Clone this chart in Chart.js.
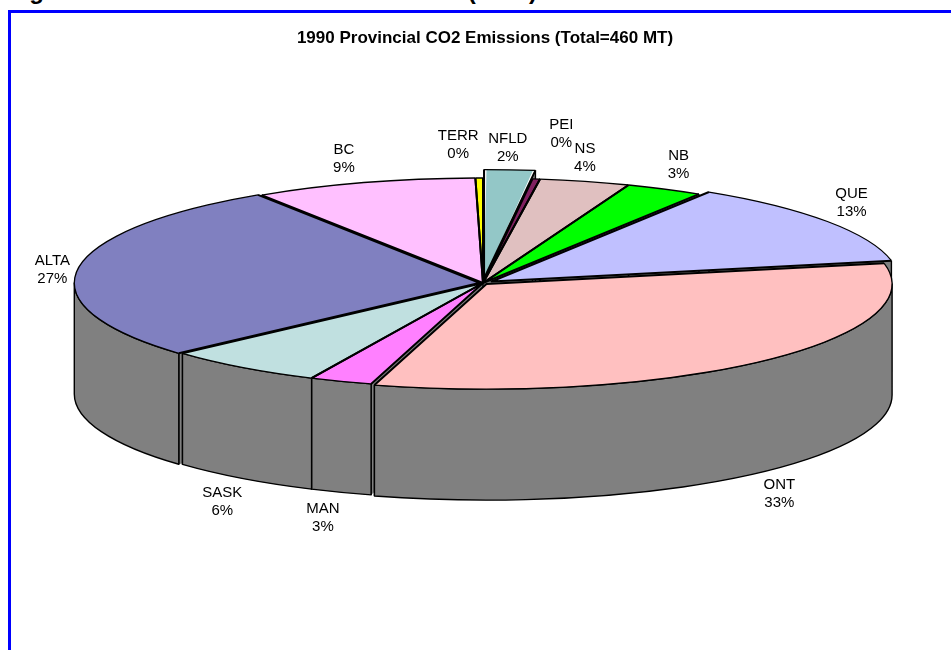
<!DOCTYPE html>
<html>
<head>
<meta charset="utf-8">
<title>1990 Provincial CO2 Emissions</title>
<script src="https://cdn.jsdelivr.net/npm/chart.js@4"></script>
<style>
    html, body { margin: 0; height: 100%; overflow: hidden; background: #fff; }
    #heading { position: absolute; left: 8px; top: -21px; font: bold 24px/24px "Liberation Sans", Arial, sans-serif; word-spacing: 9.5px; white-space: nowrap; }
    #frame { position: absolute; left: 8px; top: 10px; right: 0; bottom: 0; border-top: 3px solid #00f; border-left: 3px solid #00f; }
    #pieChart { position: absolute; left: 0; top: 0; }
</style>
</head>
<body>
<div id="heading">Figure 1: Provincial CO2 Emissions (1990)</div>
<div id="frame"></div>
<canvas id="pieChart" width="951" height="650"></canvas>
<script>
const categories = ["NFLD", "PEI", "NS", "NB", "QUE", "ONT", "MAN", "SASK", "ALTA", "BC", "TERR"];
const shares = [1.95, 0.3, 3.6, 3.1, 12.9, 32.6, 2.5, 6.35, 27.49, 8.9, 0.3];
const sliceColors = ["#93c7c7", "#802060", "#e0c0c0", "#00ff00", "#c0c0ff", "#ffc0c0", "#ff80ff", "#c0e0e0", "#8080c0", "#ffc0ff", "#ffff00"];
const sliceOffsets = [47, 0, 0, 0, 28, 14, 0, 0, 10, 0, 0];
// label nudges from the rim of each slice
const labelShift = [[0, -30], [25, -45], [0, -24], [14, -24], [35, -21], [22, 134], [-18, 137], [-20, 134], [-29, 0], [-20, -24], [-21, -33]];

const pie = { x: 483, y: 283, rx: 405, ry: 105, depth: 111 };
const wallColor = "#808080";

function slicePaths(chart) {
    return chart.getDatasetMeta(0).data.map((el, i) => {
        const sx = pie.rx / el.outerRadius, sy = pie.ry / el.outerRadius;
        const shift = sliceOffsets[i] / 4;
        const mid = (el.startAngle + el.endAngle) / 2;
        const fix = 1 - Math.sin(Math.min(Math.PI, el.endAngle - el.startAngle));
        const r = el.outerRadius + shift * fix;
        return {
            start: el.startAngle, end: el.endAngle, mid,
            x: pie.x + Math.cos(mid) * shift * sx,
            y: pie.y + Math.sin(mid) * shift * sy,
            rx: r * sx, ry: r * sy,
        };
    });
}

function tip(p, a) {
    return [p.x + Math.cos(a) * p.rx, p.y + Math.sin(a) * p.ry];
}

const pie3d = {
    id: "pie3d",
    beforeDatasetsDraw(chart) {
        const ctx = chart.ctx;
        const paths = slicePaths(chart);
        ctx.save();
        ctx.fillStyle = wallColor;
        ctx.strokeStyle = "#000";
        ctx.lineWidth = 1.4;
        ctx.lineJoin = "round";
        // cut faces first, the outer wall hides most of them
        paths.forEach((p) => {
            [p.start, p.end].forEach((a) => {
                const [tx, ty] = tip(p, a);
                ctx.beginPath();
                ctx.moveTo(p.x, p.y);
                ctx.lineTo(tx, ty);
                ctx.lineTo(tx, ty + pie.depth);
                ctx.lineTo(p.x, p.y + pie.depth);
                ctx.closePath();
                ctx.fill();
            });
        });
        paths.forEach((p) => {
            [p.start, p.end].forEach((a) => {
                const [tx, ty] = tip(p, a);
                ctx.beginPath();
                ctx.moveTo(tx, ty);
                ctx.lineTo(tx, ty + pie.depth);
                ctx.stroke();
            });
        });
        paths.filter((p) => p.start < Math.PI && p.end > 0).forEach((p) => {
            const a0 = Math.max(p.start, 0), a1 = Math.min(p.end, Math.PI);
            ctx.beginPath();
            ctx.ellipse(p.x, p.y, p.rx, p.ry, 0, a0, a1);
            ctx.ellipse(p.x, p.y + pie.depth, p.rx, p.ry, 0, a1, a0, true);
            ctx.closePath();
            ctx.fill();
            ctx.stroke();
        });
        ctx.restore();

        // squash the library's round pie into the tilted ellipse
        const el = chart.getDatasetMeta(0).data[0];
        ctx.save();
        ctx.translate(pie.x, pie.y);
        ctx.scale(pie.rx / el.outerRadius, pie.ry / el.outerRadius);
        ctx.translate(-el.x, -el.y);
    },
    afterDatasetsDraw(chart) {
        const ctx = chart.ctx;
        ctx.restore();
        const paths = slicePaths(chart);
        ctx.save();
        ctx.strokeStyle = "#000";
        ctx.lineJoin = "round";
        paths.forEach((p) => {
            ctx.lineWidth = 1.3;
            ctx.beginPath();
            ctx.ellipse(p.x, p.y, p.rx, p.ry, 0, p.start, p.end);
            ctx.stroke();
            const [ax, ay] = tip(p, p.start), [bx, by] = tip(p, p.end);
            ctx.lineWidth = 2;
            ctx.beginPath();
            ctx.moveTo(ax, ay);
            ctx.lineTo(p.x, p.y);
            ctx.lineTo(bx, by);
            ctx.stroke();
        });
        ctx.fillStyle = "#000";
        ctx.font = '15px "Liberation Sans", Arial, sans-serif';
        ctx.textAlign = "center";
        ctx.textBaseline = "middle";
        paths.forEach((p, i) => {
            const lx = pie.x + Math.cos(p.mid) * pie.rx + labelShift[i][0];
            const ly = pie.y + Math.sin(p.mid) * pie.ry + labelShift[i][1];
            ctx.fillText(categories[i], lx, ly - 9);
            ctx.fillText(Math.round(shares[i]) + "%", lx, ly + 9);
        });
        ctx.restore();
    },
};

new Chart(document.getElementById("pieChart"), {
    type: "pie",
    data: {
        labels: categories,
        datasets: [
            {
                data: shares,
                backgroundColor: sliceColors,
                borderWidth: 0,
                offset: sliceOffsets,
            },
        ],
    },
    options: {
        responsive: false,
        animation: false,
        layout: { padding: { left: 19, top: 28 } },
        plugins: {
            legend: { display: false },
            tooltip: { enabled: false },
            title: {
                display: true,
                text: "1990 Provincial CO2 Emissions (Total=460 MT)",
                color: "#000",
                font: { family: '"Liberation Sans", Arial, sans-serif', size: 17, weight: "bold" },
                padding: { top: 0, bottom: 6 },
            },
        },
    },
    plugins: [pie3d],
});
</script>
</body>
</html>
